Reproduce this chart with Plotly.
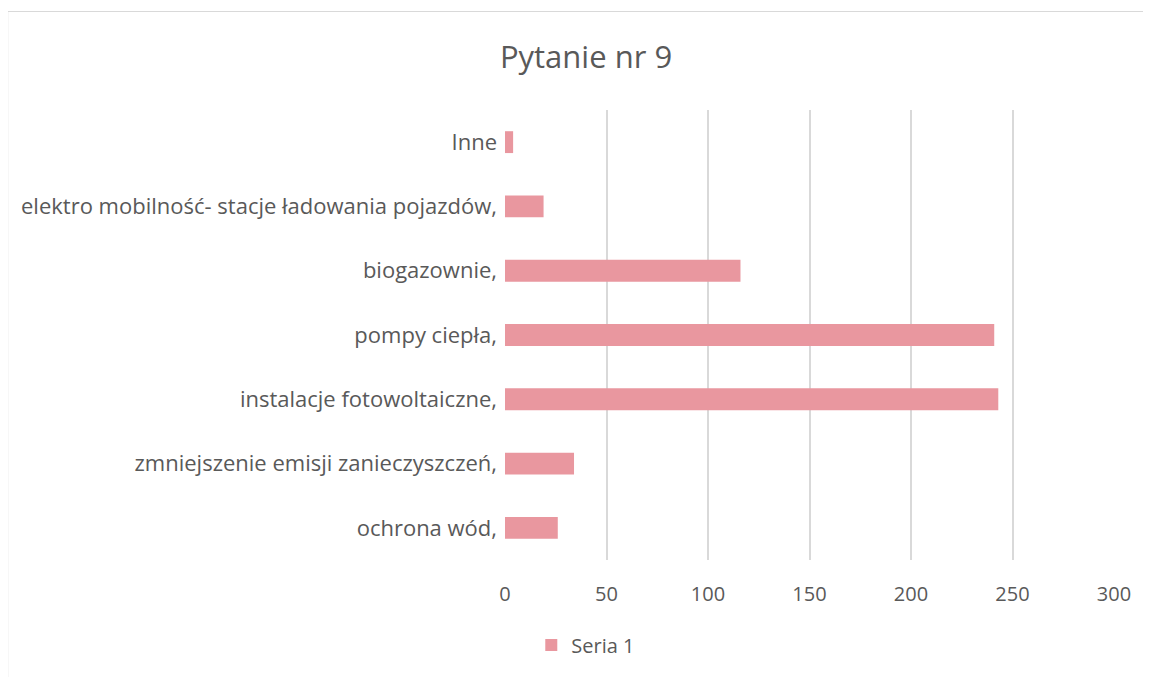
import plotly.graph_objects as go

categories = [
    "ochrona wód,",
    "zmniejszenie emisji zanieczyszczeń,",
    "instalacje fotowoltaiczne,",
    "pompy ciepła,",
    "biogazownie,",
    "elektro mobilność- stacje ładowania pojazdów,",
    "Inne",
]
values = [26, 34, 243, 241, 116, 19, 4]
series_name = "Seria 1"
x_ticks = [0, 50, 100, 150, 200, 250, 300]

OFF = 8  # page body margin
W, H = 1151 - OFF, 677 - OFF
L = 505.3 - OFF
T = 110 - OFF
R = W - (1113.7 - OFF)
B = H - (560 - OFF)
pw, ph = W - L - R, H - T - B

def px_x(p):
    return (p - OFF - L) / pw

def px_y(p):
    return 1 - (p - OFF - T) / ph

fig = go.Figure()
fig.add_trace(go.Bar(
    y=categories, x=values, orientation="h", name=series_name,
    marker=dict(color="#E9979F", line=dict(width=0)),
    showlegend=True,
))

fig.update_layout(
    width=W, height=H,
    margin=dict(l=L, r=R, t=T, b=B, autoexpand=False),
    paper_bgcolor="white", plot_bgcolor="white",
    bargap=0.66,
    font=dict(family="Open Sans", color="#595959", size=21),
    title=dict(text="Pytanie nr 9", x=(586 - OFF) / W, xref="container", xanchor="center",
               y=1 - (57 - OFF) / H, yref="container", yanchor="middle",
               font=dict(family="Open Sans", size=31, color="#595959")),
    xaxis=dict(range=[0, 300], tickvals=x_ticks, showgrid=True, gridcolor="#D9D9D9",
               gridwidth=1.5, zeroline=False, showline=False, ticks="",
               ticklabelstandoff=20, tickfont=dict(size=20, color="#595959"),
               fixedrange=True),
    yaxis=dict(showgrid=False, zeroline=False, showline=False, ticks="",
               ticklabelstandoff=7, tickfont=dict(size=22, color="#595959"),
               categoryorder="array", categoryarray=categories),
    legend=dict(orientation="h", x=px_x(586), xanchor="center", y=px_y(645),
                yanchor="middle", font=dict(size=20, color="#595959"),
                itemwidth=30, bgcolor="rgba(0,0,0,0)"),
    shapes=[dict(type="rect", xref="paper", yref="paper",
                 x0=px_x(8.5), x1=px_x(1170), y0=px_y(11.5), y1=px_y(700),
                 line=dict(color="#D9D9D9", width=1), fillcolor="rgba(0,0,0,0)",
                 layer="below")],
)

fig.write_html("out.html")
